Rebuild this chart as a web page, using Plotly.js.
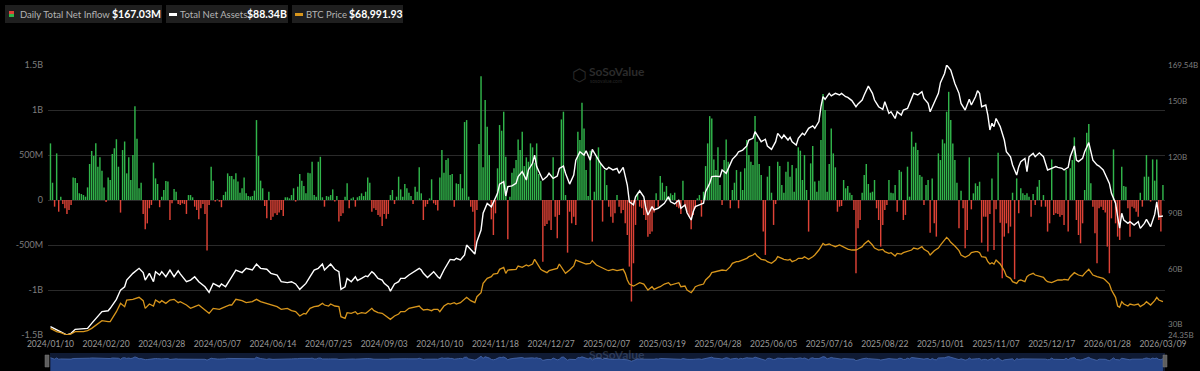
<!DOCTYPE html>
<html><head><meta charset="utf-8">
<script src="https://cdn.plot.ly/plotly-3.0.1.min.js"></script>
<style>html,body{margin:0;padding:0;background:#000;}#chart{width:1200px;height:371px;}</style>
</head><body><div id="chart"></div>
<script>
// ---- x-axis tick labels (every 27 trading days) ----
const tickLabels = ['2024/01/10','2024/02/20','2024/03/28','2024/05/07','2024/06/14','2024/07/25','2024/09/03','2024/10/10','2024/11/18','2024/12/27','2025/02/07','2025/03/19','2025/04/28','2025/06/05','2025/07/16','2025/08/22','2025/10/01','2025/11/07','2025/12/17','2026/01/28','2026/03/09'];
const tickStep = 27;

// ---- Daily total net inflow (US$ millions), one per trading day ----
const inflowM = [
629,192,-74,518,-130,37,-45,-92,-155,-110,
-55,250,245,190,75,67,55,37,140,400,
545,490,630,370,475,325,140,-22,250,222,
510,575,675,370,-140,555,650,296,475,222,
500,1043,680,130,192,-155,-325,-260,-92,-55,
415,240,178,-80,37,110,210,205,-222,-37,
122,92,-45,-55,-37,-45,-155,55,55,30,
-74,-110,-215,-92,-45,-155,-562,-55,370,215,
-18,7,-18,-80,55,92,296,266,
266,230,296,205,81,130,250,74,44,37,
44,104,888,488,215,130,-67,-204,92,-222,
-185,-148,-166,-140,-110,-178,30,30,18,55,
130,-18,148,288,215,155,74,303,296,425,
55,37,425,480,30,-74,44,37,55,118,
-18,44,-240,-178,-148,37,185,-92,18,30,
-74,30,44,74,44,92,250,192,-130,-92,
-110,-166,-185,-288,-155,-207,-155,55,111,-45,
37,259,118,37,178,130,81,44,-45,148,
92,363,
74,-222,-74,-45,18,230,-37,-55,-118,250,
555,303,444,463,277,288,-74,185,178,288,
130,866,888,37,-74,-130,-555,-110,622,1376,
363,1110,814,500,-215,-389,-148,352,833,770,
981,480,-437,37,303,352,444,673,555,759,
377,474,425,629,585,414,629,288,215,-685,
-288,-266,-229,-333,474,-185,-425,-166,895,981,
55,-585,-130,-259,-185,-277,759,666,1080,795,
333,44,548,-462,92,481,585,400,-240,333,
166,-74,-185,-252,-148,55,-74,-148,-110,-259,
-389,-740,-1128,-703,-277,81,-74,-92,-166,-222,
-407,-377,-351,-140,74,-74,266,192,92,155,
37,74,55,81,-74,-92,-155,215,-74,-140,
-185,-325,-166,-92,18,55,-185,92,377,629,
932,906,451,333,585,166,-55,444,673,425,
-92,111,192,333,-92,314,111,352,666,500,
425,388,932,648,400,277,-351,-610,259,377,
81,-277,-45,425,377,166,81,314,425,259,
388,92,352,585,548,222,500,111,-351,407,
600,205,92,215,666,1177,999,92,400,795,
518,363,-130,-74,-67,222,130,155,81,55,
-110,-814,-314,-222,81,277,400,178,81,92,
222,-92,-222,-518,-277,-110,-55,222,81,74,
166,-130,333,314,-222,-166,370,37,759,592,
636,555,277,259,-55,166,222,-363,240,-259,
-407,518,444,673,629,981,1202,888,629,444,
192,-314,104,-92,-537,-333,474,-104,74,185,
155,203,-474,-185,-185,-573,-155,240,-555,-104,
525,-252,-870,-407,-259,-370,-296,81,-880,240,
-148,130,74,55,74,37,-185,67,-55,148,
222,-74,55,-74,-351,-259,451,-166,-148,-155,
-185,-166,-277,333,-351,352,444,696,-222,-389,
-481,-259,111,747,844,185,-74,-370,-703,-92,
-74,-110,-140,-518,-814,-204,562,-259,-407,-444,
370,155,148,-92,-407,-74,-92,-130,-185,81,
-74,259,500,259,-18,451,215,451,-222,-351,
167.03
];

// ---- sampled trading-day indices for the two lines ----
const lineIdx = [
0,3,5,8,10,12,16,18,20,23,25,28,29,32,34,36,37,40,43,45,46,48,50,51,53,54,56,58,60,62,63,66,68,70,72,75,77,79,82,83,85,87,
88,90,93,95,98,100,102,105,107,110,112,115,117,119,121,123,124,126,128,130,132,133,135,136,138,140,141,143,144,146,148,149,151,153,154,156,157,159,161,162,164,165,167,169,170,172,174,176,179,
180,181,183,185,186,188,189,191,193,194,196,197,199,201,202,204,206,207,209,210,212,214,215,217,218,220,221,222,224,226,227,229,231,232,234,235,236,238,239,241,242,244,246,247,249,250,252,254,255,257,259,260,262,263,265,267,269,
270,271,273,275,276,278,279,280,281,283,284,286,288,289,290,292,293,295,296,298,300,301,303,305,306,308,309,311,312,313,315,317,318,320,321,323,325,326,328,330,331,333,334,336,338,339,341,342,343,345,347,348,350,352,353,355,356,358,359,
360,362,363,365,366,368,370,371,373,374,375,376,378,379,381,383,384,386,387,389,391,392,394,395,397,399,400,402,404,405,407,408,410,411,413,414,416,418,419,421,423,424,426,427,429,431,432,434,435,436,437,439,441,442,444,446,447,449,
450,451,452,454,455,456,457,458,459,461,463,464,466,467,469,470,471,473,474,475,477,478,480,482,483,484,486,488,489,491,492,494,495,497,498,499,501,502,504,505,506,508,509,511,512,514,515,517,518,519,520,521,523,524,526,528,529,531,532,534,536,537,538,540
];

// ---- Total net assets (US$ billions) at lineIdx ----
const netAssetsB = [
28.8,27.4,26.1,24.35,25.25,27.4,27.9,27.9,30.6,34.2,36.9,37.4,38.7,43.5,48.5,50.3,53.9,57.5,60.2,57.9,53.9,57.5,53.0,58.4,56.6,58.4,55.7,59.3,55.7,58.9,57.2,53.0,53.9,55.7,53.0,50.3,47.3,52.1,50.3,51.8,50.3,53.9,
55.7,59.3,57.9,60.2,59.3,62.5,60.2,59.7,57.5,56.6,53.0,52.5,53.0,51.8,48.9,50.7,52.1,55.7,59.3,60.2,62.5,59.3,61.4,62.5,59.7,58.4,48.9,50.3,54.8,53.0,55.7,53.6,54.8,56.1,55.7,58.4,57.5,54.8,53.9,52.1,50.3,47.9,51.8,53.0,54.8,54.8,56.6,57.9,60.2,
59.3,57.5,55.3,57.5,58.4,55.7,54.8,59.3,62.9,65.0,64.7,65.6,64.7,67.4,72.7,70.1,67.9,74.5,80.8,89.8,95.1,93.3,96.0,100.5,105.5,106.8,99.1,104.1,104.5,105.9,109.5,112.2,107.7,113.1,116.7,121.1,114.9,110.4,107.7,109.5,111.3,108.6,109.8,113.9,115.2,111.3,105.5,110.4,118.4,122.9,121.1,123.4,118.4,124.2,120.2,116.7,113.9,
113.4,114.5,113.1,113.9,111.3,114.5,110.4,105.0,96.0,94.3,98.7,101.9,98.7,92.5,88.9,93.4,91.6,92.5,93.4,95.2,98.7,96.0,94.8,97.0,92.5,94.3,90.1,86.2,90.6,93.4,94.3,95.2,101.4,105.9,109.5,109.8,109.5,113.1,111.3,116.7,118.8,121.1,122.9,123.8,126.0,129.2,130.1,133.7,131.9,128.3,129.6,126.0,124.2,128.3,132.8,130.1,131.9,129.2,130.6,
128.3,126.5,130.1,132.8,131.9,135.5,136.8,135.5,139.1,147.1,152.5,151.1,154.3,152.9,154.3,153.4,154.3,152.5,152.1,150.4,147.1,148.6,150.7,153.4,158.2,154.3,150.7,147.1,145.7,149.8,143.5,144.4,140.8,144.4,142.6,145.3,146.2,151.6,154.3,153.4,155.2,151.6,148.9,144.4,149.8,154.3,160.0,165.0,169.54,167.8,166.8,159.6,154.3,148.9,145.3,151.1,148.0,152.5,
155.7,154.3,147.1,148.0,142.6,134.6,138.2,136.4,140.8,136.4,129.2,122.9,120.2,115.8,110.4,114.9,117.6,119.3,112.2,120.2,122.0,120.2,122.3,120.2,116.7,113.1,114.0,114.9,114.5,114.0,113.1,114.5,120.2,126.0,118.4,117.6,119.3,122.9,127.8,123.8,118.4,115.8,115.2,113.1,110.4,105.9,100.5,95.2,88.0,81.8,89.8,86.2,84.4,85.3,83.5,85.3,81.7,84.4,86.5,82.6,89.2,96.0,88.0,88.34
];

// ---- BTC price (US$) at lineIdx ----
const btcPrice = [
45400,42450,41565,39500,40385,42450,42450,43335,45400,49825,52185,51300,51300,60150,67525,64575,70475,71065,72835,69885,63100,66935,65165,70475,68115,69885,67525,70475,71065,68115,69000,66050,63100,64575,66050,61625,58675,63100,62215,63100,64575,66050,
66050,71065,69885,68115,69000,71065,69000,67525,66050,64575,62215,63100,61035,60150,56315,58675,58085,63100,64575,65165,67525,66050,65165,66935,65165,64575,55725,54250,59265,58675,60150,58085,59265,58675,60150,63100,61035,59265,58675,57200,54840,53365,56315,58085,60150,60150,63100,64000,65165,
63100,61625,62215,61035,62215,62215,60150,65165,67525,66935,68115,66935,68115,71065,72835,69885,68115,73425,76965,85225,89650,91125,93485,94075,97615,99385,94075,97025,97615,97615,100565,99385,101450,100565,102335,106465,103515,97615,96435,94665,96435,97615,98500,102335,96435,94075,97025,100565,105875,104400,103515,102335,102925,105285,101450,99385,97615,
97025,96435,97615,96435,97025,97615,94075,88175,84635,82865,83750,85815,84635,81685,79325,82275,79915,81685,82275,84635,85815,83750,84635,85815,82275,82865,79325,76965,79325,82275,83750,84635,88175,91715,94665,95550,96435,97025,96435,99975,102925,104400,104400,105875,107350,108825,110300,111775,109415,106465,105875,104400,102925,105875,108825,107350,106465,105875,106465,
104400,105875,107350,107350,108825,106465,108825,110300,114725,118265,120625,119150,120035,119150,117675,119150,118265,116495,115610,114725,114725,115610,117675,120035,122985,119150,116495,114725,115315,113250,111775,112365,109415,111775,111185,112365,113250,114725,116495,115610,117675,115315,113250,110300,114135,116495,119150,123575,125935,124165,121510,118265,114135,110300,108235,110300,112365,113250,
113250,112365,108825,108235,104400,102335,103515,102335,105875,102335,96435,91715,89650,86700,85225,87585,88175,86700,91125,92600,94075,92600,91715,90535,88175,86700,85815,87585,88175,88175,88765,88175,91125,94665,93485,92600,91715,94075,97615,95550,92600,91125,90535,89650,88175,84635,79325,72835,65165,63985,69000,66935,65165,66935,66050,66935,64575,66935,69000,66050,69885,72835,70475,68991.93
];

// ---- axis tick values ----
const leftTickVals = [-1500,-1000,-500,0,500,1000,1500];
const leftTickText = ['-1.5B','-1B','-500M','0','500M','1B','1.5B'];
const rightTickVals = [24.35,30,60,90,120,150,169.54];
const rightTickText = ['24.35B','30B','60B','90B','120B','150B','169.54B'];

const GREEN = '#31b54b', RED = '#de4236', ORANGE = '#d8961c';
const dayIdx = inflowM.map((_, i) => i);
const tickIdx = tickLabels.map((_, i) => i * tickStep);
const W = 1200, H = 371;
const px = v => v / W, py = v => 1 - v / H;

const FONT = 'Lato, "Open Sans", sans-serif';

const traces = [
  { type: 'bar', x: dayIdx, y: inflowM, xaxis: 'x', yaxis: 'y',
    marker: { color: inflowM.map(v => v >= 0 ? GREEN : RED), line: { width: 0 } },
    hoverinfo: 'skip', showlegend: false },
  { type: 'scatter', mode: 'lines', x: lineIdx, y: netAssetsB, xaxis: 'x', yaxis: 'y2',
    line: { color: '#ffffff', width: 1.4 }, hoverinfo: 'skip', showlegend: false },
  { type: 'scatter', mode: 'lines', x: lineIdx, y: btcPrice, xaxis: 'x', yaxis: 'y3',
    line: { color: ORANGE, width: 1.3 }, hoverinfo: 'skip', showlegend: false },
  // range-slider preview of the inflow series
  { type: 'scatter', mode: 'lines', x: dayIdx, y: inflowM.map(v => v + 6000), xaxis: 'x2', yaxis: 'y4',
    fill: 'tozeroy', fillcolor: 'rgba(40,72,140,0.95)', line: { color: '#4a6cb0', width: 0.8 },
    hoverinfo: 'skip', showlegend: false }
];

const xDom = [48 / W, 1165 / W];
const xRange = [-1.2, 541];

const shapes = [
  // range slider background
  { type: 'rect', xref: 'paper', yref: 'paper', x0: px(50), x1: px(1165), y0: py(371), y1: py(353),
    fillcolor: '#0f1a33', line: { width: 0 }, layer: 'below' },
  // slider handles
  { type: 'rect', xref: 'paper', yref: 'paper', x0: px(45), x1: px(49), y0: py(367), y1: py(355),
    fillcolor: '#5e5e5e', line: { color: '#7a7a7a', width: 0.5 } },
  { type: 'rect', xref: 'paper', yref: 'paper', x0: px(1163), x1: px(1167), y0: py(367), y1: py(355),
    fillcolor: '#5e5e5e', line: { color: '#7a7a7a', width: 0.5 } },
  // legend boxes
  { type: 'rect', xref: 'paper', yref: 'paper', x0: px(5), x1: px(162), y0: py(23), y1: py(5),
    fillcolor: '#1f1f1f', line: { width: 0 } },
  { type: 'rect', xref: 'paper', yref: 'paper', x0: px(166), x1: px(288), y0: py(23), y1: py(5),
    fillcolor: '#1f1f1f', line: { width: 0 } },
  { type: 'rect', xref: 'paper', yref: 'paper', x0: px(292), x1: px(403), y0: py(23), y1: py(5),
    fillcolor: '#1f1f1f', line: { width: 0 } },
  // legend icons
  { type: 'rect', xref: 'paper', yref: 'paper', x0: px(9), x1: px(14), y0: py(14), y1: py(11),
    fillcolor: RED, line: { width: 0 } },
  { type: 'rect', xref: 'paper', yref: 'paper', x0: px(9), x1: px(14), y0: py(17), y1: py(14),
    fillcolor: GREEN, line: { width: 0 } },
  { type: 'rect', xref: 'paper', yref: 'paper', x0: px(169), x1: px(177), y0: py(16), y1: py(13),
    fillcolor: '#ffffff', line: { width: 0 } },
  { type: 'rect', xref: 'paper', yref: 'paper', x0: px(295), x1: px(303), y0: py(16), y1: py(13),
    fillcolor: ORANGE, line: { width: 0 } }
];

const ann = (x, y, text, size, color, anchor) => ({
  xref: 'paper', yref: 'paper', x: px(x), y: py(y), xanchor: anchor || 'left', yanchor: 'middle',
  text: text, showarrow: false, borderpad: 0,
  font: { family: FONT, size: size, color: color }
});

const annotations = [
  ann(19, 14.5, 'Daily Total Net Inflow', 9.5, '#b4b4b4'),
  ann(111, 14.5, '<b>$167.03M</b>', 10.5, '#ffffff'),
  ann(179, 14.5, 'Total Net Assets', 9.5, '#b4b4b4'),
  ann(246, 14.5, '<b>$88.34B</b>', 10.5, '#ffffff'),
  ann(305, 14.5, 'BTC Price', 9.5, '#b4b4b4'),
  ann(348, 14.5, '<b>$68,991.93</b>', 10.5, '#ffffff'),
  // watermarks
  ann(588, 71, '<b>SoSoValue</b>', 12, '#2b2b2b'),
  ann(589, 81, 'sosovalue.com', 5, '#262626'),
  ann(571, 75, '⬡', 17, '#2b2b2b'),
  ann(588, 354, '<b>SoSoValue</b>', 12, 'rgba(120,140,180,0.3)')
];

const layout = {
  width: W, height: H,
  margin: { l: 0, r: 0, t: 0, b: 0, pad: 0 },
  paper_bgcolor: '#000000', plot_bgcolor: '#000000',
  showlegend: false, bargap: 0.3,
  font: { family: FONT, color: '#8a8a8a', size: 10 },
  xaxis: { domain: xDom, range: xRange, anchor: 'y', tickmode: 'array', tickvals: tickIdx, ticktext: tickLabels,
    tickangle: 0, automargin: false, showgrid: false, zeroline: false, showline: false, ticks: '', ticklen: 0,
    ticklabelstandoff: 2, tickfont: { family: FONT, size: 8.5, color: '#9a9a9a' } },
  yaxis: { domain: [py(335), py(65)], range: [-1500, 1500], tickmode: 'array', tickvals: leftTickVals, ticktext: leftTickText,
    automargin: false, showgrid: true, gridcolor: '#2a2a2a', gridwidth: 1, zeroline: false, showline: false, ticks: '',
    ticklabelstandoff: 4, tickfont: { family: FONT, size: 9, color: '#7d7d7d' } },
  yaxis2: { overlaying: 'y', side: 'right', anchor: 'x', range: [24.35, 169.54], tickmode: 'array', automargin: false,
    tickvals: rightTickVals, ticktext: rightTickText, showgrid: false, zeroline: false, showline: false, ticks: '',
    ticklabelstandoff: 2, tickfont: { family: FONT, size: 8, color: '#7d7d7d' } },
  yaxis3: { overlaying: 'y', anchor: 'x', range: [39500, 278500], visible: false, showgrid: false, zeroline: false },
  xaxis2: { domain: xDom, range: xRange, anchor: 'y4', visible: false, showgrid: false, zeroline: false },
  yaxis4: { domain: [0, py(353)], range: [0, 9000], visible: false, showgrid: false, zeroline: false },
  shapes: shapes,
  annotations: annotations
};

Plotly.newPlot('chart', traces, layout, { staticPlot: true, displayModeBar: false });
</script>
</body></html>
